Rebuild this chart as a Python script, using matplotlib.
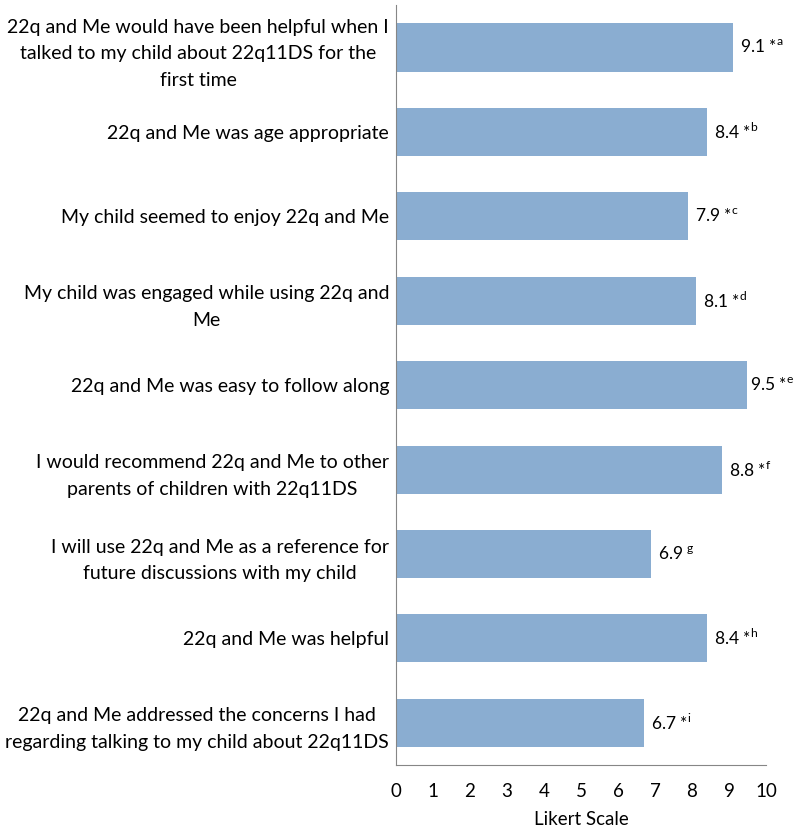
import matplotlib
matplotlib.use("Agg")
import matplotlib.pyplot as plt

plt.rcParams['font.family'] = ['Lato', 'DejaVu Sans']
plt.rcParams['mathtext.fontset'] = 'custom'
plt.rcParams['mathtext.rm'] = 'Lato'

# statements, top to bottom
statements = [
    "22q and Me would have been helpful when I\ntalked to my child about 22q11DS for the\nfirst time",
    "22q and Me was age appropriate",
    "My child seemed to enjoy 22q and Me",
    "My child was engaged while using 22q and\nMe",
    "22q and Me was easy to follow along",
    "I would recommend 22q and Me to other\nparents of children with 22q11DS",
    "I will use 22q and Me as a reference for\nfuture discussions with my child",
    "22q and Me was helpful",
    "22q and Me addressed the concerns I had\nregarding talking to my child about 22q11DS",
]
scores = [9.1, 8.4, 7.9, 8.1, 9.5, 8.8, 6.9, 8.4, 6.7]
stars = ["*", "*", "*", "*", "*", "*", "", "*", "*"]
notes = ["a", "b", "c", "d", "e", "f", "g", "h", "i"]

fig = plt.figure(figsize=(7.94, 8.33), dpi=100)
ax = fig.add_axes([0.4987, 0.0816, 0.466, 0.912])

ypos = list(range(len(scores)))[::-1]
ax.barh(ypos, scores, height=0.57, color='#8aadd1')

for y, v, s, n in zip(ypos, scores, stars, notes):
    lab = f"{v} {s}" + r"$^{\mathrm{" + n + "}}$"
    dx = 1.5 if v > 9.3 else 5  # excel squeezes the label near the edge
    ax.annotate(lab, (v, y), xytext=(dx, 0), textcoords='offset points',
                va='center', ha='left', fontsize=12.5)

ax.set_xlim(0, 10)
ax.set_ylim(-0.5, len(scores) - 0.5)
ax.set_xticks(range(0, 11))
ax.set_yticks(ypos)
ax.set_yticklabels(statements, fontsize=14)
for t in ax.get_yticklabels():
    t.set_multialignment('center')
    t.set_linespacing(1.7)
ax.tick_params(axis='both', length=0)
ax.tick_params(axis='x', pad=13, labelsize=13.5)
ax.tick_params(axis='y', pad=5)
ax.set_xlabel("Likert Scale", fontsize=13.5, labelpad=8)

for side in ['top', 'right']:
    ax.spines[side].set_visible(False)
ax.spines['left'].set_color('#868686')
ax.spines['bottom'].set_color('#868686')

fig.savefig("out.png", dpi=100)
